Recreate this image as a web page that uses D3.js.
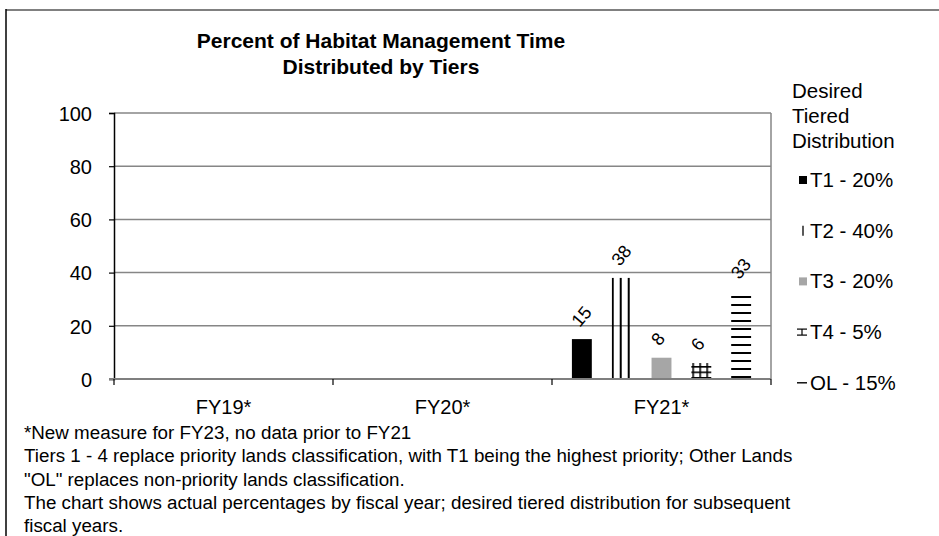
<!DOCTYPE html>
<html>
<head>
<meta charset="utf-8">
<script src="https://cdn.jsdelivr.net/npm/d3@7"></script>
<style>
  body { margin: 0; background: #fff; }
  svg { display: block; font-family: "Liberation Sans", Arial, sans-serif; }
</style>
</head>
<body>
<svg id="chart" width="939" height="536"></svg>
<script>
// data
const years = ["FY19*", "FY20*", "FY21*"];
const tiers = ["T1", "T2", "T3", "T4", "OL"];
const legendLabels = ["T1 - 20%", "T2 - 40%", "T3 - 20%", "T4 - 5%", "OL - 15%"];
const t1 = [null, null, 15];
const t2 = [null, null, 38];
const t3 = [null, null, 8];
const t4 = [null, null, 6];
const ol = [null, null, 33];
const yTicks = [0, 20, 40, 60, 80, 100];
const titleLines = ["Percent of Habitat Management Time", "Distributed by Tiers"];
const legendTitle = ["Desired", "Tiered", "Distribution"];
const notes = [
  "*New measure for FY23, no data prior to FY21",
  "Tiers 1 - 4 replace priority lands classification, with T1 being the highest priority; Other Lands",
  "\"OL\" replaces non-priority lands classification.",
  "The chart shows actual percentages by fiscal year; desired tiered distribution for subsequent",
  "fiscal years."
];

const series = [t1, t2, t3, t4, ol];
const svg = d3.select("#chart");

const pLeft = 114, pRight = 771, pTop = 113, pBottom = 379;

let x = d3.scaleBand().domain(years).range([pLeft, pRight]).paddingInner(0).paddingOuter(0);
let xInner = d3.scaleBand().domain(tiers).range([0, x.bandwidth()]).paddingInner(0.5).paddingOuter(0.5);
let y = d3.scaleLinear().domain([0, 100]).range([pBottom, pTop]);

// outer frame bits
svg.append("line").attr("x1", 6).attr("x2", 939).attr("y1", 10).attr("y2", 10)
  .attr("stroke", "#808080").attr("stroke-width", 2);
svg.append("line").attr("x1", 6).attr("x2", 6).attr("y1", 9).attr("y2", 536)
  .attr("stroke", "#000").attr("stroke-width", 1.5);

// patterns
const defs = svg.append("defs");
function vLines(id, ox) {
  let p = defs.append("pattern").attr("id", id).attr("patternUnits", "userSpaceOnUse")
    .attr("x", ox).attr("y", 0).attr("width", 8).attr("height", 8);
  p.append("rect").attr("x", 0).attr("y", 0).attr("width", 2).attr("height", 8).attr("fill", "#000");
}
function hLines(id, oy) {
  let p = defs.append("pattern").attr("id", id).attr("patternUnits", "userSpaceOnUse")
    .attr("x", 0).attr("y", oy).attr("width", 8).attr("height", 8);
  p.append("rect").attr("x", 0).attr("y", 0).attr("width", 8).attr("height", 2).attr("fill", "#000");
}
function grid(id, ox, oy) {
  let p = defs.append("pattern").attr("id", id).attr("patternUnits", "userSpaceOnUse")
    .attr("x", ox).attr("y", oy).attr("width", 7).attr("height", 5.5);
  p.append("rect").attr("x", 0).attr("y", 0).attr("width", 1.6).attr("height", 5.5).attr("fill", "#000");
  p.append("rect").attr("x", 0).attr("y", 0).attr("width", 7).attr("height", 1.6).attr("fill", "#000");
}

const fy21 = x("FY21*");
vLines("pT2", fy21 + xInner("T2"));
grid("pT4", fy21 + xInner("T4") + 1, pBottom - 2);
hLines("pOL", pBottom - 3);

const fills = ["#000", "url(#pT2)", "#a6a6a6", "url(#pT4)", "url(#pOL)"];

// gridlines
svg.append("g").selectAll("line").data(yTicks.filter(d => d > 0)).join("line")
  .attr("x1", pLeft).attr("x2", pRight)
  .attr("y1", d => y(d)).attr("y2", d => y(d))
  .attr("stroke", "#868686").attr("stroke-width", 1.5);

// right border of plot
svg.append("line").attr("x1", pRight).attr("x2", pRight).attr("y1", pTop).attr("y2", pBottom)
  .attr("stroke", "#868686").attr("stroke-width", 1.5);

// bars
series.forEach((vals, i) => {
  const g = svg.append("g");
  const rows = years.map((yr, j) => ({ yr, v: vals[j] })).filter(d => d.v != null);
  g.selectAll("rect").data(rows)
    .join("rect")
    .attr("x", d => x(d.yr) + xInner(tiers[i]))
    .attr("width", xInner.bandwidth())
    .attr("y", d => y(d.v))
    .attr("height", d => y(0) - y(d.v))
    .attr("fill", fills[i]);

  g.selectAll("text").data(rows)
    .join("text")
    .attr("transform", d => {
      const cx = x(d.yr) + xInner(tiers[i]) + xInner.bandwidth() / 2 - 2;
      const cy = y(d.v) - 11;
      return `translate(${cx},${cy}) rotate(-50)`;
    })
    .attr("font-size", 18)
    .attr("fill", "#000")
    .text(d => d.v);
});

// axes
const yAxis = svg.append("g").attr("transform", `translate(${pLeft},0)`)
  .call(d3.axisLeft(y).tickValues(yTicks).tickSize(5).tickPadding(17).tickFormat(d3.format("d")));
yAxis.select(".domain").attr("stroke", "#000").attr("stroke-width", 1.5);
yAxis.selectAll(".tick line").attr("stroke", "#000").attr("stroke-width", 1.2);
yAxis.selectAll(".tick text").attr("font-size", 20).attr("fill", "#000")
  .attr("font-family", "Liberation Sans, Arial, sans-serif").attr("dy", "0.36em");

const xAxis = svg.append("g").attr("transform", `translate(0,${pBottom})`)
  .call(d3.axisBottom(x).tickSize(0).tickPadding(21));
xAxis.select(".domain").remove();
xAxis.append("line").attr("x1", pLeft - 5).attr("x2", pRight).attr("y1", 0).attr("y2", 0)
  .attr("stroke", "#7f7f7f").attr("stroke-width", 2);
xAxis.selectAll(".bt").data([pLeft, ...years.map(d => x(d) + x.bandwidth())]).join("line")
  .attr("x1", d => d).attr("x2", d => d).attr("y1", 0).attr("y2", 6)
  .attr("stroke", "#000").attr("stroke-width", 1.2);
xAxis.selectAll(".tick text").attr("font-size", 20).attr("fill", "#000")
  .attr("font-family", "Liberation Sans, Arial, sans-serif");

// title
svg.append("g").selectAll("text").data(titleLines).join("text")
  .attr("x", 381).attr("y", (d, i) => 48 + i * 26)
  .attr("text-anchor", "middle").attr("font-size", 21).attr("font-weight", "bold")
  .text(d => d);

// legend
svg.append("g").selectAll("text").data(legendTitle).join("text")
  .attr("x", 792).attr("y", (d, i) => 98 + i * 25)
  .attr("font-size", 20.5).text(d => d);

const lg = svg.append("g").selectAll("g").data(legendLabels).join("g")
  .attr("transform", (d, i) => `translate(799,${180 + i * 50.7})`);
lg.append("rect")
  .attr("x", 0).attr("y", -4).attr("width", 8).attr("height", 8)
  .attr("fill", (d, i) => ["#000", "none", "#a6a6a6", "none", "none"][i]);
lg.filter((d, i) => i === 1).append("line")
  .attr("x1", 4).attr("x2", 4).attr("y1", -5).attr("y2", 5).attr("stroke", "#000").attr("stroke-width", 1.3);
lg.filter((d, i) => i === 3).each(function () {
  const s = d3.select(this);
  s.append("line").attr("x1", -2).attr("x2", 8).attr("y1", -3).attr("y2", -3).attr("stroke", "#000").attr("stroke-width", 1.2);
  s.append("line").attr("x1", -2).attr("x2", 8).attr("y1", 3).attr("y2", 3).attr("stroke", "#000").attr("stroke-width", 1.2);
  s.append("line").attr("x1", 3).attr("x2", 3).attr("y1", -3).attr("y2", 3).attr("stroke", "#000").attr("stroke-width", 1.2);
});
lg.filter((d, i) => i === 4).append("line")
  .attr("x1", -2).attr("x2", 8).attr("y1", 0).attr("y2", 0).attr("stroke", "#000").attr("stroke-width", 1.4);
lg.append("text").attr("x", 11).attr("y", 7).attr("font-size", 20.5).text(d => d);

// footnotes
svg.append("g").selectAll("text").data(notes).join("text")
  .attr("x", 24).attr("y", (d, i) => 439 + i * 23.3)
  .attr("font-size", 18.8).text(d => d);
</script>
</body>
</html>
